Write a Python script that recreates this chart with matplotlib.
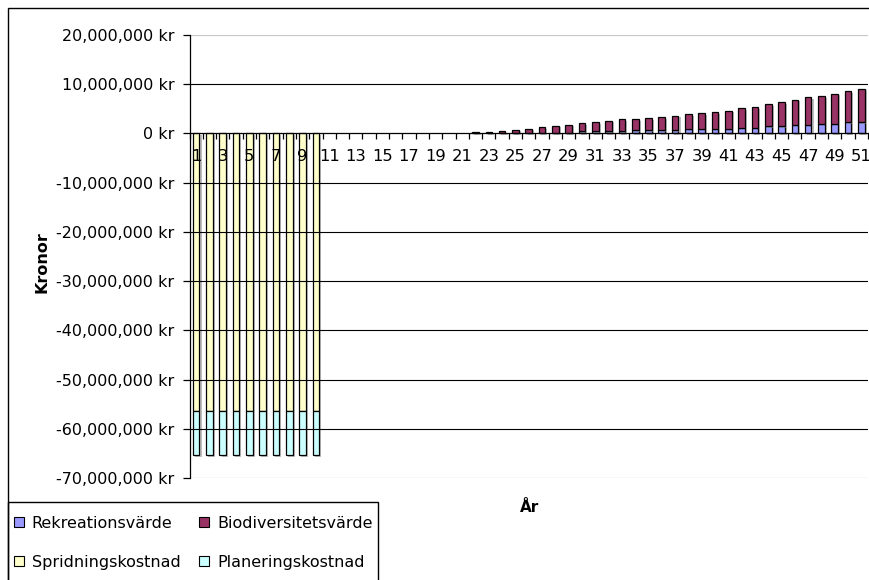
import matplotlib
matplotlib.use("Agg")
import matplotlib.pyplot as plt
import matplotlib.patheffects as pe
from matplotlib.patches import Rectangle, Patch
from matplotlib.ticker import FuncFormatter, FixedLocator

plt.rcParams['font.family'] = ['DejaVu Sans']

years = list(range(1, 52))

# values in millions of kronor
rekreation = [0, 0, 0, 0, 0, 0, 0, 0, 0, 0,
              0, 0, 0, 0, 0, 0, 0, 0, 0, 0,
              0, 0, 0, 0, 0.1, 0.1, 0.1, 0.1, 0.1, 0.4,
              0.4, 0.4, 0.4, 0.65, 0.65, 0.65, 0.65, 0.98, 0.98, 0.98,
              0.98, 1.2, 1.2, 1.48, 1.48, 1.76, 1.76, 2.0, 2.0, 2.25,
              2.25]
biodiversitet = [0, 0, 0, 0, 0, 0, 0, 0, 0, 0,
                 0, 0, 0, 0, 0, 0, 0, 0, 0, 0,
                 0, 0.27, 0.30, 0.47, 0.70, 0.90, 1.20, 1.45, 1.70, 1.70,
                 1.95, 2.17, 2.44, 2.19, 2.42, 2.69, 2.97, 2.87, 3.11, 3.38,
                 3.62, 3.87, 4.14, 4.41, 4.91, 5.11, 5.64, 5.64, 6.10, 6.40,
                 6.88]
spridning = [-56.3, -56.3, -56.3, -56.3, -56.3, -56.3, -56.3, -56.3, -56.3, -56.3,
             0, 0, 0, 0, 0, 0, 0, 0, 0, 0,
             0, 0, 0, 0, 0, 0, 0, 0, 0, 0,
             0, 0, 0, 0, 0, 0, 0, 0, 0, 0,
             0, 0, 0, 0, 0, 0, 0, 0, 0, 0,
             0]
planering = [-9.0, -9.0, -9.0, -9.0, -9.0, -9.0, -9.0, -9.0, -9.0, -9.0,
             0, 0, 0, 0, 0, 0, 0, 0, 0, 0,
             0, 0, 0, 0, 0, 0, 0, 0, 0, 0,
             0, 0, 0, 0, 0, 0, 0, 0, 0, 0,
             0, 0, 0, 0, 0, 0, 0, 0, 0, 0,
             0]
series_names = ["Rekreationsvärde", "Biodiversitetsvärde",
                "Spridningskostnad", "Planeringskostnad"]
colors = ["#9999FF", "#993366", "#FFFFCC", "#CCFFFF"]
y_ticks = [-70e6, -60e6, -50e6, -40e6, -30e6, -20e6, -10e6, 0, 10e6, 20e6]

M = 1e6
rek = [v * M for v in rekreation]
bio = [v * M for v in biodiversitet]
spr = [v * M for v in spridning]
pla = [v * M for v in planering]

W, H = 869, 580
fig = plt.figure(figsize=(W / 100, H / 100), dpi=100)
ax = fig.add_axes([189.5 / W, 1 - 478 / H, (868 - 189.5) / W, (478 - 35) / H])

shadow = [pe.SimplePatchShadow(offset=(1.5, -1.2), shadow_rgbFace='#888888', alpha=0.55), pe.Normal()]
bw = 0.5
kw = dict(width=bw, edgecolor='black', linewidth=0.9, zorder=1)
b1 = ax.bar(years, rek, color=colors[0], **kw)
b2 = ax.bar(years, bio, bottom=rek, color=colors[1], **kw)
b3 = ax.bar(years, spr, color=colors[2], **kw)
b4 = ax.bar(years, pla, bottom=spr, color=colors[3], **kw)
for bars in (b1, b2, b3, b4):
    for p in bars:
        if p.get_height() != 0:
            p.set_path_effects(shadow)
        else:
            p.set_visible(False)

ax.set_xlim(0.5, 51.5)
ax.set_ylim(-70e6, 20e6)

# gridlines
for t in y_ticks:
    if t in (-70e6, 20e6):
        ax.axhline(t, color='#C8C8C8', linewidth=0.9, zorder=3)
    elif t != 0:
        ax.axhline(t, color='black', linewidth=0.8, zorder=3)

for s in ('top', 'right'):
    ax.spines[s].set_visible(False)
ax.spines['bottom'].set_position(('data', 0))
ax.spines['bottom'].set_zorder(4)
ax.spines['left'].set_zorder(4)
ax.spines['bottom'].set_linewidth(0.9)
ax.spines['left'].set_linewidth(0.9)

ax.yaxis.set_major_locator(FixedLocator(y_ticks))
ax.yaxis.set_major_formatter(FuncFormatter(lambda v, p: f"{int(round(v)):,} kr"))
ax.tick_params(axis='y', direction='out', length=5, width=0.9, pad=6, labelsize=11.5)

ax.set_xticks([y + 0.5 for y in [0] + years])
ax.set_xticklabels([])
ax.set_xticks([y for y in years if y % 2 == 1], minor=True)
ax.set_xticklabels([str(y) for y in years if y % 2 == 1], minor=True)
ax.tick_params(axis='x', which='major', direction='out', length=4, width=0.9)
ax.tick_params(axis='x', which='minor', length=0, pad=11, labelsize=11.8)
for lbl in ax.get_xticklabels(minor=True):
    lbl.set_zorder(5)

fig.text(42 / W, 1 - 262 / H, "Kronor", rotation=90, ha='center', va='center',
         fontsize=11.5, fontweight='bold')
fig.text(530 / W, 1 - 508 / H, "År", ha='center', va='center',
         fontsize=11, fontweight='bold')

# chart area border
fig.patches.append(Rectangle((8 / W, -0.2), 1.2, 1.2 - 8 / H, transform=fig.transFigure,
                             fill=False, edgecolor='black', linewidth=1.0))
# legend border
fig.patches.append(Rectangle((8 / W, -0.2), (378 - 8) / W, 0.2 + 1 - 502 / H,
                             transform=fig.transFigure, fill=False,
                             edgecolor='black', linewidth=1.0))

handles = [Patch(facecolor=colors[0], edgecolor='black', linewidth=0.8),
           Patch(facecolor=colors[2], edgecolor='black', linewidth=0.8),
           Patch(facecolor=colors[1], edgecolor='black', linewidth=0.8),
           Patch(facecolor=colors[3], edgecolor='black', linewidth=0.8)]
labels = [series_names[0], series_names[2], series_names[1], series_names[3]]
leg = fig.legend(handles, labels, loc='upper left', bbox_to_anchor=(14 / W, 1 - 516 / H),
                 ncol=2, fontsize=11.5, frameon=False, borderaxespad=0, borderpad=0,
                 handlelength=0.6, handleheight=0.6, handletextpad=0.5,
                 columnspacing=1.2, labelspacing=1.48)

fig.savefig("out.png", dpi=100)
